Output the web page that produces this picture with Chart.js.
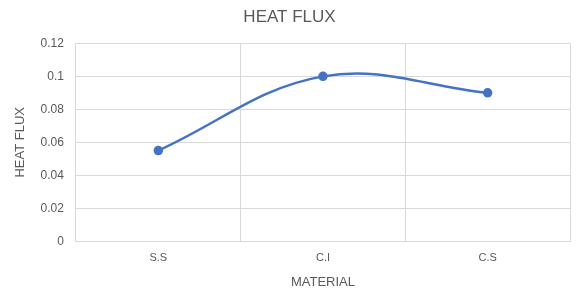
<!DOCTYPE html>
<html><head><meta charset="utf-8">
<script src="https://cdn.jsdelivr.net/npm/chart.js@4/dist/chart.umd.min.js"></script>
<style>html,body{margin:0;padding:0;background:#fff}#w{width:580px;height:304px}</style>
</head><body><div id="w"><canvas id="c"></canvas></div>
<script>
const categories = ["S.S", "C.I", "C.S"];
const heatFlux = [0.055, 0.1, 0.09];
const yTicks = [0, 0.02, 0.04, 0.06, 0.08, 0.1, 0.12];
const FONT = "'Liberation Sans', Arial, sans-serif";
const grey = '#595959';
new Chart(document.getElementById('c'), {
  type: 'line',
  data: { labels: categories, datasets: [{
    data: heatFlux, borderColor: '#4472C4', backgroundColor: '#4472C4',
    borderWidth: 2.5, pointRadius: 3.5, pointHoverRadius: 3.5, tension: 0.38, fill: false
  }]},
  options: {
    responsive: true, maintainAspectRatio: false, animation: false,
    layout: { padding: { left: 9, right: 10, top: 0, bottom: 10 } },
    plugins: {
      legend: { display: false }, tooltip: { enabled: false },
      title: { display: true, text: 'HEAT FLUX', color: grey,
        font: { family: FONT, size: 17, weight: 'normal' }, padding: { top: 7, bottom: 16 } }
    },
    scales: {
      x: { offset: true,
        grid: { offset: true, color: '#d9d9d9', drawTicks: false },
        border: { color: '#d9d9d9' },
        ticks: { color: grey, font: { family: FONT, size: 11 }, padding: 10 },
        title: { display: true, text: 'MATERIAL', color: grey, font: { family: FONT, size: 13 }, padding: { top: 0 } }
      },
      y: { min: 0, max: 0.12,
        afterBuildTicks: s => { s.ticks = yTicks.map(v => ({ value: v })); },
        grid: { color: '#d9d9d9', drawTicks: false },
        border: { color: '#d9d9d9' },
        ticks: { color: grey, font: { family: FONT, size: 12 }, padding: 12,
          callback: v => String(+v.toFixed(2)) },
        title: { display: true, text: 'HEAT FLUX', color: grey, font: { family: FONT, size: 13 }, padding: { bottom: 0 } }
      }
    }
  }
});
</script></body></html>
